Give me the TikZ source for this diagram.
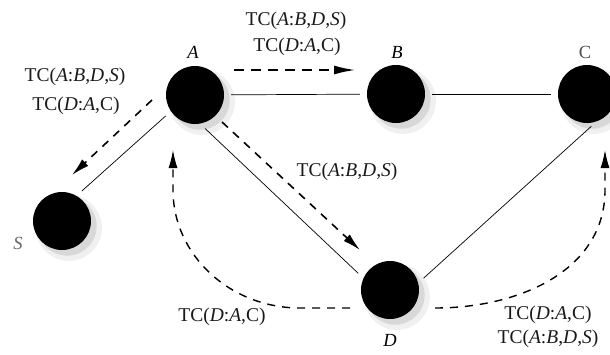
\documentclass[tikz,border=0pt]{standalone}
\usepackage{fontspec}
\setmainfont{Liberation Serif}
\usetikzlibrary{arrows.meta,shadows}
\begin{document}
\begin{tikzpicture}[x=1pt,y=-1pt,
  vertex/.style={circle, fill=black, minimum size=58pt, inner sep=0pt,
    drop shadow={shadow xshift=6pt, shadow yshift=-6pt, shadow scale=1.14, fill=black, opacity=0.06},
    drop shadow={shadow xshift=5pt, shadow yshift=-5pt, shadow scale=1.02, fill=black, opacity=0.10}},
  edgeline/.style={line width=0.7pt, shorten <=7pt, shorten >=7pt},
  msg/.style={line width=1.6pt, dash pattern=on 8pt off 7pt, -{Latex[length=18pt,width=9pt]}},
  msgtop/.style={line width=2.3pt, dash pattern=on 10pt off 7pt, -{Latex[length=22pt,width=9pt]}},
  lbl/.style={font=\fontsize{19.5}{22}\selectfont, text=black!90, inner sep=0pt},
  vname/.style={font=\fontsize{18.5}{20}\selectfont, inner sep=0pt}
]
\useasboundingbox (0,0) rectangle (610,354);

% vertices
\node[vertex] (A) at (195,95) {};
\node[vertex] (B) at (396,94) {};
\node[vertex] (C) at (587,94) {};
\node[vertex] (S) at (62,221) {};
\node[vertex] (D) at (390,290) {};

% vertex names
\node[vname] (lA) at (193,52) {\textit{A}};
\node[vname] (lB) at (397,52) {\textit{B}};
\node[vname, text=black!70] (lC) at (585,52) {C};
\node[vname, text=black!60] (lS) at (18,243) {\textit{S}};
\node[vname] (lD) at (390,340) {\textit{D}};

% links
\draw[edgeline] (A) -- (B);
\draw[edgeline] (B) -- (C);
\draw[edgeline] (A.-146) -- (S.60);
\draw[edgeline] (A.-80) -- (D.156);
\draw[edgeline] (D.14) -- (C.-71);

% message arrows
\coordinate (ab0) at (234,70);
\coordinate (ab1) at (356,70);
\coordinate (as0) at (152,100);
\coordinate (as1) at (72,175);
\coordinate (ad0) at (222,122);
\coordinate (ad1) at (360,250);
\coordinate (da0) at (350,308);
\coordinate (da1) at (173,150);
\coordinate (dc0) at (435,308);
\coordinate (dc1) at (605,150);

\draw[msgtop] (ab0) -- (ab1);
\draw[msg] (as0) -- (as1);
\draw[msg] (ad0) -- (ad1);
\draw[msg, line width=1.4pt] (da0) -- (300,308) .. controls (230,308) and (173,255) .. (173,190) -- (da1);
\draw[msg, line width=1.4pt] (dc0) .. controls (520,308) and (605,270) .. (605,190) -- (dc1);

% message labels
\node[lbl] (t1) at (296,21) {TC(\textit{A}:\textit{B},\textit{D},\textit{S})};
\node[lbl] (t2) at (297,47) {TC(\textit{D}:\textit{A},C)};
\node[lbl] (l1) at (75,77) {TC(\textit{A}:\textit{B},\textit{D},\textit{S})};
\node[lbl] (l2) at (76,106) {TC(\textit{D}:\textit{A},C)};
\node[lbl] (m1) at (347,172) {TC(\textit{A}:\textit{B},\textit{D},\textit{S})};
\node[lbl] (b1) at (222,317) {TC(\textit{D}:\textit{A},C)};
\node[lbl] (r1) at (548,315) {TC(\textit{D}:\textit{A},C)};
\node[lbl] (r2) at (548,339) {TC(\textit{A}:\textit{B},\textit{D},\textit{S})};
\end{tikzpicture}
\end{document}
